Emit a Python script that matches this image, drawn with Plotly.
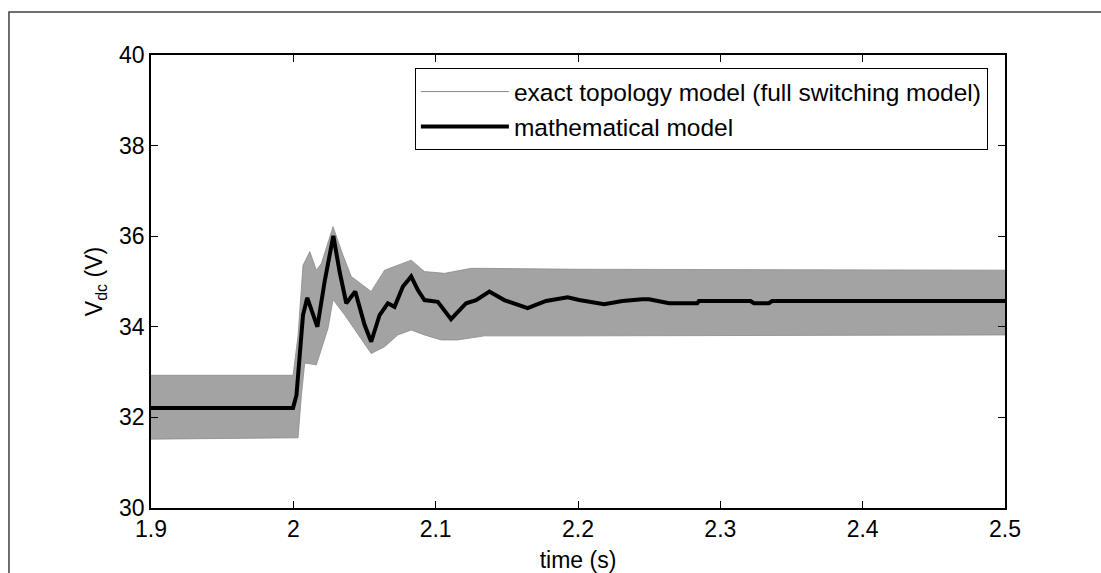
import plotly.graph_objects as go

# ---- data ----
# mathematical (averaged) model
math_t = [1.9, 1.9998, 2.0022, 2.0045, 2.0068, 2.0098, 2.0169, 2.0220, 2.0281,
          2.0325, 2.0372, 2.0435, 2.0501, 2.0547, 2.0606, 2.0664, 2.0711, 2.0770,
          2.0828, 2.0875, 2.0921, 2.1015, 2.1108, 2.1214, 2.1284, 2.1377, 2.1482,
          2.1646, 2.1775, 2.1927, 2.2008, 2.2184, 2.2312, 2.2452, 2.2499, 2.2640,
          2.2838, 2.2850, 2.3212, 2.3236, 2.3341, 2.3364, 2.5]
math_v = [32.21, 32.21, 32.49, 33.38, 34.26, 34.64, 34.00, 35.00, 36.01,
          35.22, 34.52, 34.78, 34.04, 33.67, 34.26, 34.52, 34.44, 34.89,
          35.11, 34.81, 34.59, 34.55, 34.17, 34.52, 34.59, 34.78, 34.59,
          34.41, 34.57, 34.65, 34.59, 34.50, 34.57, 34.61, 34.61, 34.52,
          34.52, 34.57, 34.57, 34.52, 34.52, 34.57, 34.57]

# exact topology (switching) model: ripple envelope
upper_t = [1.9, 1.9998, 2.0033, 2.0068, 2.0116, 2.0162, 2.0197, 2.0279, 2.0349,
           2.0407, 2.0454, 2.0547, 2.0641, 2.0734, 2.0828, 2.0921, 2.1062, 2.1249,
           2.1342, 2.2, 2.5]
upper_v = [32.93, 32.93, 33.8, 35.36, 35.66, 35.25, 35.4, 36.21, 35.58,
           35.11, 35.0, 34.78, 35.25, 35.36, 35.47, 35.22, 35.18, 35.29,
           35.29, 35.27, 35.25]
lower_t = [1.9, 2.0033, 2.0057, 2.0080, 2.0162, 2.0244, 2.0279, 2.0361, 2.0547,
           2.0641, 2.0734, 2.0828, 2.0921, 2.1038, 2.1155, 2.1342, 2.2, 2.5]
lower_v = [31.52, 31.55, 32.5, 33.2, 33.16, 33.97, 34.6, 34.26, 33.41,
           33.56, 33.82, 33.93, 33.82, 33.71, 33.71, 33.8, 33.8, 33.82]

x_ticks = [1.9, 2.0, 2.1, 2.2, 2.3, 2.4, 2.5]
x_labels = ["1.9", "2", "2.1", "2.2", "2.3", "2.4", "2.5"]
y_ticks = [30, 32, 34, 36, 38, 40]
y_labels = ["30", "32", "34", "36", "38", "40"]

names = ["exact topology model (full switching model)", "mathematical model"]

FONT = "Liberation Sans, Arial, sans-serif"

fig = go.Figure()

# legend entry for the switching model (thin gray line)
fig.add_trace(go.Scatter(x=[None], y=[None], mode="lines", name=names[0],
                         line=dict(color="#8a8a8a", width=1)))
# ripple band of the switching model
fig.add_trace(go.Scatter(x=lower_t, y=lower_v, mode="lines", showlegend=False,
                         line=dict(color="#8c8c8c", width=0.8), hoverinfo="skip"))
fig.add_trace(go.Scatter(x=upper_t, y=upper_v, mode="lines", showlegend=False,
                         fill="tonexty", fillcolor="rgb(163,163,163)",
                         line=dict(color="#8c8c8c", width=0.8), hoverinfo="skip"))
# mathematical model
fig.add_trace(go.Scatter(x=math_t, y=math_v, mode="lines", name=names[1],
                         line=dict(color="black", width=4)))

axis_common = dict(showline=True, linecolor="black", linewidth=1.5, mirror="allticks",
                   ticks="inside", ticklen=7, tickwidth=1, tickcolor="black",
                   showgrid=False, zeroline=False, automargin=False,
                   tickfont=dict(family=FONT, size=23, color="black"))

fig.update_layout(
    width=1101, height=573,
    margin=dict(l=151, r=96, t=55, b=65),
    paper_bgcolor="white", plot_bgcolor="white",
    font=dict(family=FONT, size=23, color="black"),
    xaxis=dict(range=[1.9, 2.5], tickvals=x_ticks, ticktext=x_labels,
               title=dict(text="time (s)", font=dict(family=FONT, size=23), standoff=11),
               **axis_common),
    yaxis=dict(range=[30, 40], tickvals=y_ticks, ticktext=y_labels,
               title=dict(text="V<sub>dc</sub> (V)", font=dict(family=FONT, size=23), standoff=10),
               **axis_common),
    legend=dict(x=0.309, y=0.971, xanchor="left", yanchor="top",
                bgcolor="white", bordercolor="black", borderwidth=1,
                font=dict(family=FONT, size=24.5, color="black"),
                itemwidth=88, tracegroupgap=0, traceorder="normal"),
    showlegend=True,
    shapes=[dict(type="rect", xref="paper", yref="paper",
                 x0=-0.1663, x1=1.2, y0=-0.3, y1=1.0949,
                 line=dict(color="#404040", width=1.5), layer="below")],
)

fig.write_html("out.html", config={"displayModeBar": False},
               post_script="document.body.style.margin='0';document.body.style.overflow='hidden';")
